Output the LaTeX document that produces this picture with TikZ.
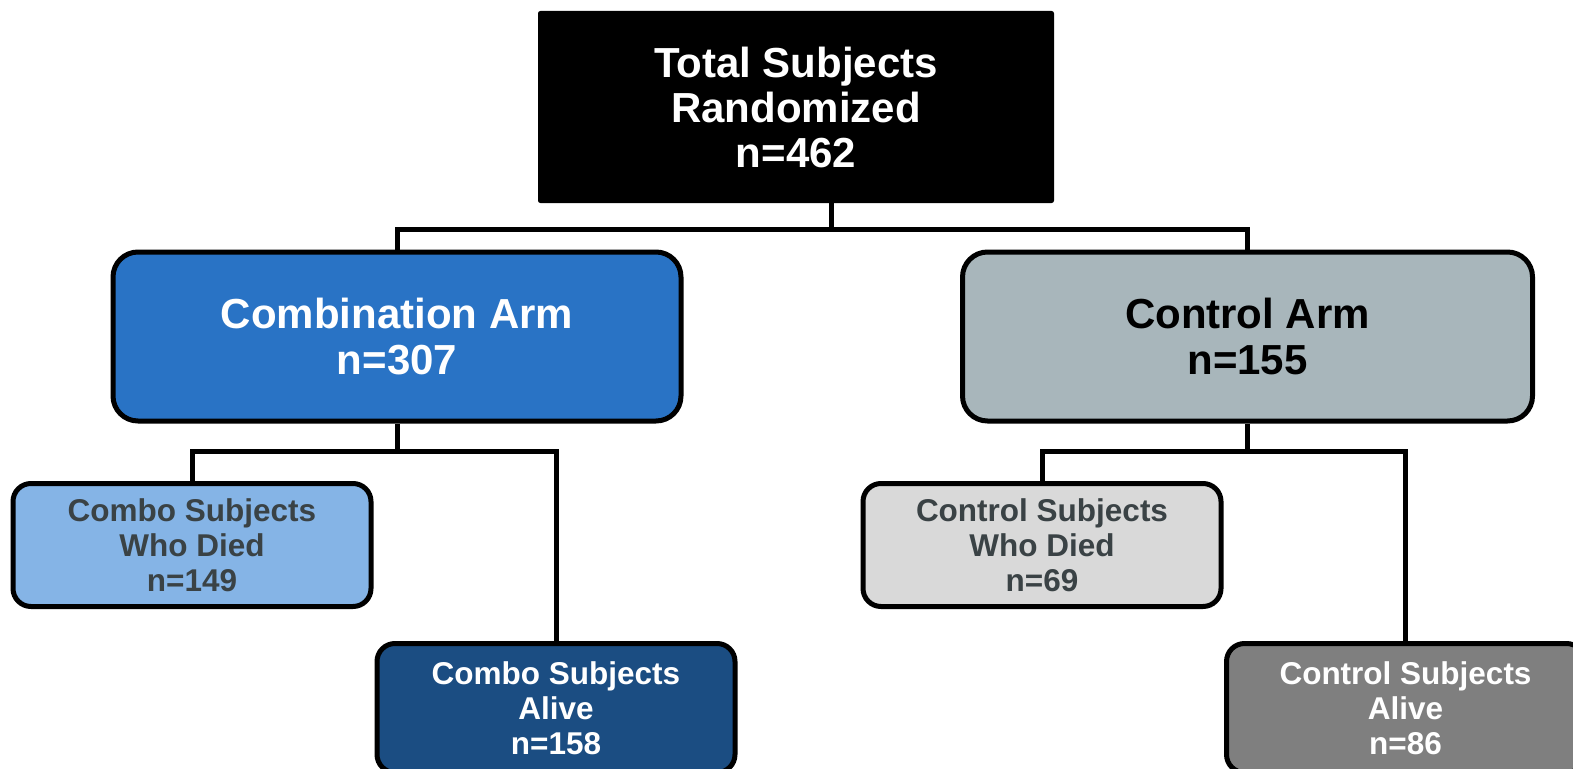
\documentclass[tikz,border=0pt]{standalone}
\usepackage{fontspec}
\setmainfont{Liberation Sans}
\definecolor{combblue}{RGB}{41,115,197}
\definecolor{ctrlgrey}{RGB}{168,182,187}
\definecolor{combolight}{RGB}{133,180,230}
\definecolor{combodark}{RGB}{27,77,130}
\definecolor{ctrllight}{RGB}{217,217,217}
\definecolor{ctrldark}{RGB}{127,127,127}
\definecolor{darktext}{RGB}{58,66,69}
\tikzset{
  boxbase/.style={draw=black, line width=5pt, align=center, inner sep=0pt},
  bigbox/.style={boxbase, rounded corners=25pt, font=\fontsize{42}{46}\selectfont\bfseries},
  smallbox/.style={boxbase, rounded corners=18pt, minimum width=358pt, minimum height=123pt, font=\fontsize{31.5}{35}\selectfont\bfseries},
  cutbox/.style={smallbox, minimum height=129pt},
  conn/.style={draw=black, line width=5pt}
}
\begin{document}
\begin{tikzpicture}[x=1pt,y=-1pt]
\useasboundingbox (0,0) rectangle (1573,768);
\clip (0,0) rectangle (1573,768);
\node[boxbase, line width=1pt, fill=black, text=white, rounded corners=2pt, minimum width=515pt, minimum height=191pt, font=\fontsize{42}{45}\selectfont\bfseries] (top) at (796,107) {Total Subjects\\Randomized\\n=462};
\node[bigbox, fill=combblue, text=white, minimum width=568pt, minimum height=169pt] (comb) at (397,336.5) {Combination Arm\\n=307};
\node[bigbox, fill=ctrlgrey, text=black, minimum width=570pt, minimum height=169pt] (ctrl) at (1247.5,336.5) {Control Arm\\n=155};
\node[smallbox, fill=combolight, text=darktext] (combodied) at (192,545) {Combo Subjects\\Who Died\\n=149};
\node[cutbox, fill=combodark, text=white] (comboalive) at (556,708) {Combo Subjects\\Alive\\n=158};
\node[smallbox, fill=ctrllight, text=darktext] (ctrldied) at (1042,545) {Control Subjects\\Who Died\\n=69};
\node[cutbox, fill=ctrldark, text=white] (ctrlalive) at (1405.5,708) {Control Subjects\\Alive\\n=86};
\coordinate (tj) at (831,229);
\coordinate (cj) at (397,451);
\coordinate (kj) at (1247.5,451);
\draw[conn] (top.south -| tj) -- (tj);
\draw[conn] (comb.north) |- (tj) -| (ctrl.north);
\draw[conn] (comb.south) -- (cj);
\draw[conn] (combodied.north) |- (cj) -| (comboalive.north);
\draw[conn] (ctrl.south) -- (kj);
\draw[conn] (ctrldied.north) |- (kj) -| (ctrlalive.north);
\end{tikzpicture}
\end{document}
